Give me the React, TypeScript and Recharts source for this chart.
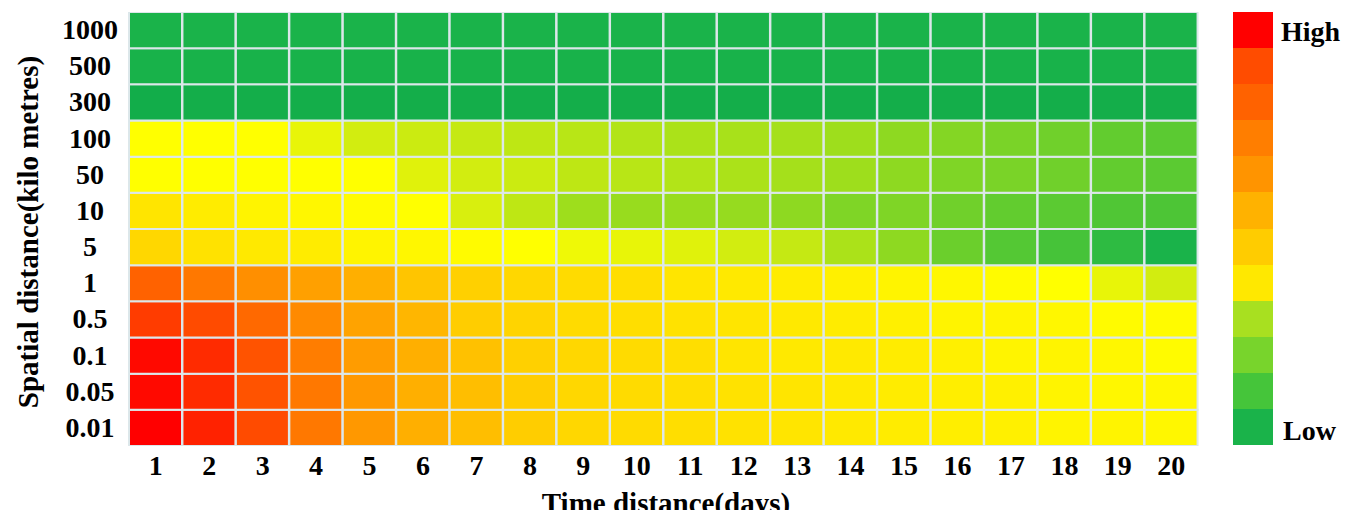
import React from 'react';
import { BarChart, Bar, XAxis, YAxis, Cell } from 'recharts';

// time distance (days) on x, spatial distance (km) on y, bottom row first
const days = [1, 2, 3, 4, 5, 6, 7, 8, 9, 10, 11, 12, 13, 14, 15, 16, 17, 18, 19, 20];
const spatialLabels = ['0.01', '0.05', '0.1', '0.5', '1', '5', '10', '50', '100', '300', '500', '1000'];

// relative intensity 0 (low) .. 100 (high), one array per spatial distance
const km0_01 = [100, 96, 91, 85, 78, 72, 68, 64, 61, 60, 59, 58, 57, 56, 55, 54.5, 54, 53, 53, 52];
const km0_05 = [99, 95, 90, 85, 78, 72, 68, 64, 61, 60, 59, 58, 57, 56, 55, 54.5, 54, 53, 52, 52];
const km0_1 = [99, 95, 90, 84, 77, 72, 67, 63, 61, 60, 59, 57, 56, 56, 55, 54, 53, 53, 52, 51];
const km0_5 = [93, 91, 87, 81, 75, 70, 64, 62, 60, 59, 58, 57, 56, 55, 54, 53, 53, 52, 51, 51];
const km1 = [88, 85, 80, 76, 72, 66, 63, 61, 60, 59, 57, 56, 55, 54, 53, 52, 51, 50, 47, 44];
const km5 = [61, 58, 56, 55, 53, 52, 51, 50, 48, 47, 46, 44, 42, 38, 33, 26, 20, 16, 10, 5];
const km10 = [57, 55, 53, 52, 51, 50, 45, 41, 36, 35, 35, 34.5, 33, 30, 30, 27, 24, 22, 19, 18];
const km50 = [50, 50, 50, 50, 50, 46, 44, 43, 41, 40, 39, 38, 37, 36, 33, 30, 29, 27, 24, 22];
const km100 = [50, 50, 50, 47, 44, 43, 42, 41, 40, 39, 38, 37.5, 37, 36, 33, 31, 29, 27, 24, 22];
const km300 = [0, 1, 1, 1, 1, 1, 1, 1, 1, 1, 1, 1, 1, 1, 1, 1, 1, 1, 1, 1];
const km500 = [4, 4, 4, 4, 4, 4, 4, 4, 4, 4, 4, 4, 4, 4, 4, 4, 4, 4, 4, 4];
const km1000 = [5, 5, 5, 5, 5, 5, 5, 5, 5, 5, 5, 5, 5, 5, 5, 5, 5, 5, 5, 5];

const rows = [km0_01, km0_05, km0_1, km0_5, km1, km5, km10, km50, km100, km300, km500, km1000];

// legend steps, top (High) to bottom (Low)
const legendSteps = [
  '#ff0000', '#ff4c00', '#ff6200', '#ff7e00', '#ff9400', '#ffb200',
  '#ffcc00', '#ffe800', '#a8e020', '#78d42c', '#45c53a', '#1ab34a',
];

const STOPS: [number, string][] = [
  [0, '#12ad4a'],
  [5, '#1ab34a'],
  [15, '#42c23a'],
  [25, '#66cd2e'],
  [35, '#98dc1e'],
  [45, '#d8ef0e'],
  [50, '#ffff00'],
  [55, '#ffec00'],
  [62, '#ffd400'],
  [70, '#ffb600'],
  [78, '#ff9800'],
  [85, '#ff7800'],
  [92, '#ff4400'],
  [100, '#ff0000'],
];

const hex = (s: string) => [1, 3, 5].map((i) => parseInt(s.slice(i, i + 2), 16));

const colorFor = (v: number) => {
  for (let i = 1; i < STOPS.length; i++) {
    const [v1, c1] = STOPS[i];
    const [v0, c0] = STOPS[i - 1];
    if (v <= v1) {
      const t = (v - v0) / (v1 - v0);
      const a = hex(c0);
      const b = hex(c1);
      const m = a.map((x, k) => Math.round(x + (b[k] - x) * t));
      return `rgb(${m[0]},${m[1]},${m[2]})`;
    }
  }
  return STOPS[STOPS.length - 1][1];
};

const data = days.map((d, ci) => {
  const o: any = { day: d };
  rows.forEach((r, ri) => {
    o[`r${ri}`] = 1;
    o[`v${ri}`] = r[ci];
  });
  return o;
});

const FONT = '"Liberation Serif", "Times New Roman", serif';
const GRID = '#dce7ea';

const YTick = (props: any) => {
  const { y, payload } = props;
  const idx = Math.round(payload.value - 0.5);
  return (
    <text x={82} y={y} dy={9} textAnchor="middle" fontFamily={FONT} fontWeight="bold" fontSize={28} fill="#000">
      {spatialLabels[idx]}
    </text>
  );
};

const XTick = (props: any) => {
  const { x, y, payload } = props;
  return (
    <text x={x} y={y} dy={21} textAnchor="middle" fontFamily={FONT} fontWeight="bold" fontSize={28} fill="#000">
      {payload.value}
    </text>
  );
};

export default function App() {
  return (
    <div style={{ position: 'relative', width: 1340, height: 502, fontFamily: FONT }}>
      <BarChart
        width={1340}
        height={502}
        data={data}
        margin={{ top: 4, right: 150, bottom: 34, left: 41 }}
        barCategoryGap={0}
        barGap={0}
      >
        <XAxis dataKey="day" type="category" axisLine={false} tickLine={false} tick={<XTick />} height={30} interval={0} />
        <YAxis
          type="number"
          domain={[0, 12]}
          ticks={spatialLabels.map((_, i) => i + 0.5)}
          axisLine={false}
          tickLine={false}
          tick={<YTick />}
          width={80}
          allowDataOverflow
        />
        {rows.map((r, ri) => (
          <Bar key={ri} dataKey={`r${ri}`} stackId="heat" isAnimationActive={false}>
            {data.map((d: any, ci: number) => (
              <Cell key={ci} fill={colorFor(d[`v${ri}`])} stroke={GRID} strokeWidth={2} />
            ))}
          </Bar>
        ))}
      </BarChart>

      <div
        style={{
          position: 'absolute',
          left: 20,
          top: 224,
          transform: 'translate(-50%, -50%) rotate(-90deg)',
          whiteSpace: 'nowrap',
          fontWeight: 'bold',
          fontSize: 29,
          color: '#000',
        }}
      >
        Spatial distance(kilo metres)
      </div>
      <div
        style={{
          position: 'absolute',
          left: 658,
          top: 495,
          transform: 'translate(-50%, -50%)',
          whiteSpace: 'nowrap',
          fontWeight: 'bold',
          fontSize: 29,
          lineHeight: '30px',
          color: '#000',
        }}
      >
        Time distance(days)
      </div>

      <div style={{ position: 'absolute', left: 1225, top: 4, width: 40 }}>
        {legendSteps.map((c, i) => (
          <div key={i} style={{ height: 36.1, background: c }} />
        ))}
      </div>
      <div style={{ position: 'absolute', left: 1273, top: 8, fontWeight: 'bold', fontSize: 28, lineHeight: '32px', color: '#000' }}>High</div>
      <div style={{ position: 'absolute', left: 1275, top: 407, fontWeight: 'bold', fontSize: 28, lineHeight: '32px', color: '#000' }}>Low</div>
    </div>
  );
}
